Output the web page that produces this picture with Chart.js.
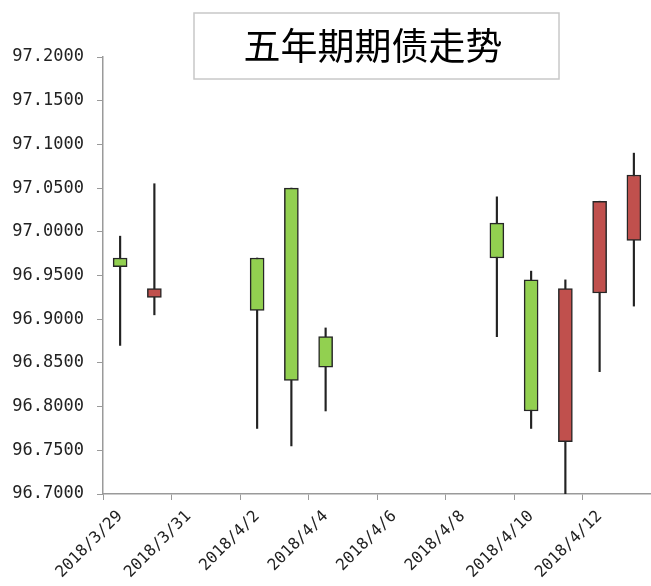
<!DOCTYPE html>
<html>
<head>
<meta charset="utf-8">
<script src="https://cdn.jsdelivr.net/npm/chart.js@4.4.1/dist/chart.umd.min.js"></script>
<style>
  html, body { margin: 0; padding: 0; background: #fff; }
  #wrap { width: 651px; height: 586px; }
</style>
</head>
<body>
<div id="wrap"><canvas id="firstCan" width="651" height="586"></canvas></div>
<script>
// five-year bond futures, daily OHLC
const titleText = '五年期期债走势'
const dates = ['2018/3/29', '2018/3/30', '2018/4/2', '2018/4/3', '2018/4/4', '2018/4/9', '2018/4/10', '2018/4/11', '2018/4/12', '2018/4/13']
const openPx  = [96.970, 96.925, 96.970, 97.050, 96.880, 97.010, 96.945, 96.760, 96.930, 96.990]
const highPx  = [96.995, 97.055, 96.970, 97.050, 96.890, 97.040, 96.955, 96.945, 97.035, 97.090]
const lowPx   = [96.870, 96.905, 96.775, 96.755, 96.795, 96.880, 96.775, 96.700, 96.840, 96.915]
const closePx = [96.960, 96.935, 96.910, 96.830, 96.845, 96.970, 96.795, 96.935, 97.035, 97.065]
const yMin = 96.7, yMax = 97.2, yStep = 0.05
const axisDays = 16, dayStep = 2

const upColor = '#C0504D'
const downColor = '#92D050'

const start = Date.UTC(2018, 2, 29)
const dayOf = s => {
  const [y, m, d] = s.split('/').map(Number)
  return Math.round((Date.UTC(y, m - 1, d) - start) / 864e5)
}
const labelOf = v => {
  const d = new Date(start + v * 864e5)
  return d.getUTCFullYear() + '/' + (d.getUTCMonth() + 1) + '/' + d.getUTCDate()
}

// candle sits in the middle of its day slot
const xs = dates.map(s => dayOf(s) + 0.5)
const bodies = xs.map((x, i) => ({ x: x, y: [openPx[i], closePx[i]] }))
const wicks = xs.map((x, i) => ({ x: x, y: [lowPx[i], highPx[i]] }))
const bodyColors = closePx.map((c, i) => c > openPx[i] ? upColor : downColor)

const titleBox = {
  id: 'titleBox',
  afterDraw(chart) {
    const ctx = chart.ctx
    ctx.save()
    ctx.fillStyle = '#fff'
    ctx.fillRect(194, 13, 365, 66)
    ctx.strokeStyle = '#c8c8c8'
    ctx.lineWidth = 1.5
    ctx.strokeRect(194, 13, 365, 66)
    ctx.fillStyle = '#000'
    ctx.font = '400 37px "Noto Sans CJK SC"'
    ctx.textAlign = 'center'
    ctx.textBaseline = 'middle'
    ctx.fillText(titleText, 373, 46)
    ctx.restore()
  }
}

const tickFont = { family: '"DejaVu Sans Mono"', size: 17 }

new Chart(document.getElementById('firstCan'), {
  type: 'bar',
  data: {
    datasets: [
      {
        label: 'range',
        data: wicks,
        backgroundColor: '#222',
        borderWidth: 0,
        barThickness: 1.5,
        grouped: false,
        order: 2
      },
      {
        label: 'body',
        data: bodies,
        backgroundColor: bodyColors,
        borderColor: '#262626',
        borderWidth: 1.5,
        borderSkipped: false,
        barThickness: 14,
        grouped: false,
        order: 1
      }
    ]
  },
  options: {
    responsive: false,
    animation: false,
    layout: { padding: { top: 57, right: 0, bottom: 0, left: 0 } },
    plugins: { legend: { display: false }, tooltip: { enabled: false }, title: { display: false } },
    scales: {
      x: {
        type: 'linear',
        min: 0,
        max: axisDays,
        offset: false,
        afterFit: s => { s.height = 92 },
        afterBuildTicks: s => { s.ticks = s.ticks.filter(t => t.value < axisDays) },
        grid: { offset: false, drawOnChartArea: false, drawTicks: true, tickLength: 6, color: '#9a9a9a' },
        border: { display: true, color: '#9a9a9a', width: 1.5 },
        ticks: {
          stepSize: dayStep,
          autoSkip: false,
          minRotation: 45,
          maxRotation: 45,
          labelOffset: 17,
          padding: 7,
          color: '#222',
          font: { family: '"DejaVu Sans Mono"', size: 16 },
          callback: v => labelOf(v)
        }
      },
      y: {
        min: yMin,
        max: yMax,
        afterFit: s => { s.width = 103 },
        grid: { drawOnChartArea: false, drawTicks: true, tickLength: 6, color: '#9a9a9a' },
        border: { display: true, color: '#9a9a9a', width: 1.5 },
        ticks: {
          stepSize: yStep,
          padding: 13,
          color: '#222',
          font: tickFont,
          callback: v => v.toFixed(4)
        }
      }
    }
  },
  plugins: [titleBox]
})
</script>
</body>
</html>
